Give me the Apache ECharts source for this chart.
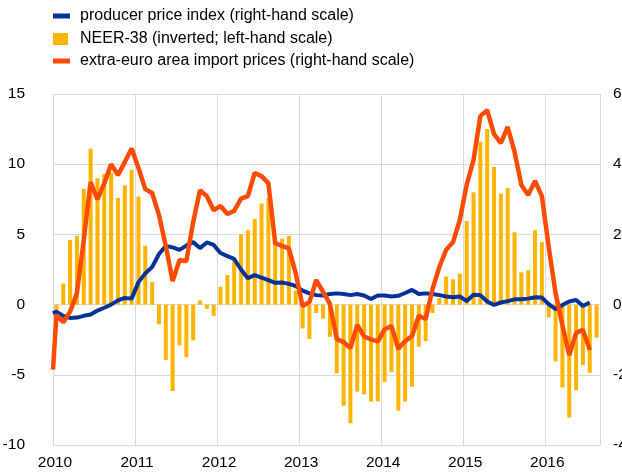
<!DOCTYPE html>
<html>
<head>
<meta charset="utf-8">
<script src="https://cdn.jsdelivr.net/npm/echarts@6/dist/echarts.min.js"></script>
<style>
html,body{margin:0;padding:0;background:#fff;}
#c{width:622px;height:472px;}
</style>
</head>
<body>
<div id="c"></div>
<script>
// Monthly data, Jan 2010 = month index 0 (plotted at mid-month)
var yearLabels = ['2010','2011','2012','2013','2014','2015','2016'];
var leftTicks = [-10, -5, 0, 5, 10, 15];
var rightTicks = [-4, -2, 0, 2, 4, 6];

// NEER-38 (inverted; left-hand scale), Jan 2010 - Aug 2016
var neer = [
  -0.4, 1.5, 4.6, 4.9, 8.25, 11.1, 9.0, 9.3, 9.4, 7.6, 8.5, 9.6,
  7.7, 4.2, 1.6, -1.4, -3.95, -6.15, -2.9, -3.75, -2.55, 0.3, -0.3, -0.8,
  1.27, 2.1, 3.3, 5.0, 5.3, 6.1, 7.2, 7.6, 4.5, 4.7, 4.9, 1.0,
  -1.7, -2.45, -0.6, -1.0, -2.3, -4.9, -7.2, -8.45, -6.2, -6.4, -6.9, -6.9,
  -5.5, -4.8, -7.55, -6.9, -5.85, -3.0, -2.6, -0.6, 0.45, 2.0, 1.8, 2.2,
  5.95, 8.0, 11.6, 12.5, 9.8, 7.9, 8.3, 5.15, 2.3, 2.45, 5.3, 4.45,
  -0.9, -4.05, -5.9, -8.05, -6.1, -4.3, -4.85, -2.35
];

// producer price index (right-hand scale): value at the left edge, then Jan 2010 - Jul 2016
var ppiStart = -0.25;
var ppi = [
  -0.2, -0.32, -0.38, -0.37, -0.32, -0.28, -0.17, -0.09, 0.0, 0.12, 0.19, 0.17,
  0.64, 0.89, 1.07, 1.44, 1.67, 1.63, 1.56, 1.68, 1.78, 1.61, 1.77, 1.7,
  1.47, 1.38, 1.3, 1.0, 0.75, 0.84, 0.77, 0.7, 0.62, 0.63, 0.59, 0.53,
  0.4, 0.32, 0.27, 0.26, 0.3, 0.32, 0.3, 0.27, 0.3, 0.26, 0.16, 0.26,
  0.26, 0.23, 0.25, 0.33, 0.42, 0.3, 0.32, 0.3, 0.27, 0.23, 0.21, 0.23,
  0.1, 0.28, 0.27, 0.09, -0.01, 0.06, 0.1, 0.15, 0.15, 0.17, 0.21, 0.2,
  0.01, -0.13, -0.01, 0.09, 0.13, -0.04, 0.06
];

// extra-euro area import prices (right-hand scale): value at the left edge, then Jan 2010 - Jul 2016
var impStart = -1.85;
var imp = [
  -0.3, -0.5, -0.2, 0.33, 1.84, 3.49, 3.0, 3.46, 4.0, 3.69, 4.06, 4.45,
  3.89, 3.29, 3.18, 2.55, 1.67, 0.67, 1.27, 1.24, 2.35, 3.26, 3.09, 2.69,
  2.81, 2.58, 2.67, 3.02, 3.09, 3.75, 3.66, 3.46, 1.75, 1.67, 1.6, 0.89,
  -0.04, 0.07, 0.7, 0.36, 0.02, -0.98, -1.07, -1.24, -0.58, -0.91, -0.99, -1.05,
  -0.7, -0.61, -1.26, -1.04, -0.9, -0.32, -0.41, 0.44, 1.07, 1.56, 1.78, 2.41,
  3.41, 4.12, 5.37, 5.54, 4.86, 4.6, 5.06, 4.35, 3.41, 3.12, 3.52, 3.09,
  1.64, 0.33, -0.58, -1.44, -0.81, -0.72, -1.29
];

var names = ['producer price index (right-hand scale)', 'NEER-38 (inverted; left-hand scale)', 'extra-euro area import prices (right-hand scale)'];
var colors = ['#003299', '#FFB400', '#FF4B00'];

function toXY(start, arr) {
  var out = [[0, start]];
  arr.forEach(function (v, i) { out.push([i + 0.5, v]); });
  return out;
}
var neerXY = neer.map(function (v, i) { return [i + 0.5, v]; });

var font = 'Liberation Sans, Arial, sans-serif';
var chart = echarts.init(document.getElementById('c'), null, {renderer: 'canvas'});
function legendFor(idx, top, w, h, pad) {
  return {
    data: [names[idx]], left: 53, top: top, orient: 'vertical',
    icon: 'rect', itemWidth: w, itemHeight: h, padding: 0,
    textStyle: {fontFamily: font, fontSize: 16, color: '#000', padding: [0, 0, 0, pad]},
    selectedMode: false
  };
}
chart.setOption({
  animation: false,
  color: colors,
  grid: {left: 53, right: 22, top: 94, bottom: 27, containLabel: false, outerBoundsMode: 'none'},
  legend: [
    legendFor(0, 8, 17, 5, 5),
    legendFor(1, 31, 15, 12, 7),
    legendFor(2, 53, 17, 5, 5)
  ],
  xAxis: {
    type: 'value', min: 0, max: 80, interval: 12,
    axisLine: {show: false}, axisTick: {show: false},
    splitLine: {show: true, lineStyle: {color: '#d9d9d9', width: 1}},
    axisLabel: {
      fontFamily: font, fontSize: 15.5, color: '#000', margin: 10, padding: [0, 0, 0, 4],
      showMaxLabel: false,
      formatter: function (v) { return v % 12 === 0 ? yearLabels[v / 12] : ''; }
    }
  },
  yAxis: [
    {
      type: 'value', min: leftTicks[0], max: leftTicks[leftTicks.length - 1], interval: 5,
      axisLine: {show: false}, axisTick: {show: false},
      splitLine: {show: true, lineStyle: {color: '#d9d9d9', width: 1}},
      axisLabel: {fontFamily: font, fontSize: 15.5, color: '#000', margin: 28}
    },
    {
      type: 'value', min: rightTicks[0], max: rightTicks[rightTicks.length - 1], interval: 2,
      position: 'right',
      axisLine: {show: false}, axisTick: {show: false}, splitLine: {show: false},
      axisLabel: {fontFamily: font, fontSize: 15.5, color: '#000', margin: 13}
    }
  ],
  series: [
    {
      name: names[1], type: 'bar', yAxisIndex: 0, data: neerXY, barWidth: 4,
      itemStyle: {color: colors[1]}, z: 1
    },
    {
      name: names[0], type: 'line', yAxisIndex: 1, data: toXY(ppiStart, ppi),
      showSymbol: false, symbol: 'none',
      lineStyle: {color: colors[0], width: 4}, itemStyle: {color: colors[0]}, z: 2
    },
    {
      name: names[2], type: 'line', yAxisIndex: 1, data: toXY(impStart, imp),
      showSymbol: false, symbol: 'none',
      lineStyle: {color: colors[2], width: 4.5}, itemStyle: {color: colors[2]}, z: 3
    }
  ]
});
</script>
</body>
</html>
